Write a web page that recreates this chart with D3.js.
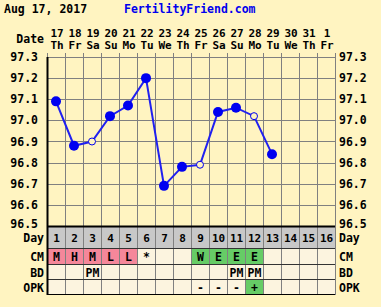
<!DOCTYPE html>
<html><head><meta charset="utf-8">
<script src="https://cdn.jsdelivr.net/npm/d3@7"></script>
<style>html,body{margin:0;padding:0;background:#FFF4C1;}svg{display:block;}text{font-family:"DejaVu Sans Mono",monospace;font-weight:bold;font-size:11.5px;}</style>
</head><body>
<script>
const days = d3.range(1, 17);
const dates = ["17","18","19","20","21","22","23","24","25","26","27","28","29","30","31","1"];
const weekdays = ["Th","Fr","Sa","Su","Mo","Tu","We","Th","Fr","Sa","Su","Mo","Tu","We","Th","Fr"];
const temps = [97.09, 96.88, 96.90, 97.02, 97.07, 97.20, 96.69, 96.78, 96.79, 97.04, 97.06, 97.02, 96.84, null, null, null];
const openDays = [3, 9, 12];
const yTicks = [96.5, 96.6, 96.7, 96.8, 96.9, 97.0, 97.1, 97.2, 97.3];
const cm = ["M","H","M","L","L","*","","","W","E","E","E","","","",""];
const bd = ["","","PM","","","","","","","","PM","PM","","","",""];
const opk = ["","","","","","","","","-","-","-","+","","","",""];
const rowLabels = ["Day","CM","BD","OPK"];

const W = 381, H = 307;
const BG = "#FFF4C1";
const svg = d3.select("body").append("svg").attr("width", W).attr("height", H);
const x = d3.scaleBand().domain(days).range([47, 335]);
const y = d3.scaleLinear().domain([96.5, 97.3]).range([226, 57]);
const cx = d => x(d) + x.bandwidth() / 2;
const px = v => Math.round(v) + 0.5;

// title
svg.append("text").attr("x", 4).attr("y", 13).attr("fill", "#000").text("Aug 17, 2017");
svg.append("text").attr("x", 124).attr("y", 13).attr("fill", "#0000EE").text("FertilityFriend.com");

// date header
svg.append("text").attr("x", 44).attr("y", 43).attr("text-anchor", "end").text("Date");
svg.selectAll(".dt").data(days).enter().append("text")
  .attr("x", d => cx(d) + 1).attr("y", 37).attr("text-anchor", "middle").style("font-size", "11px").text(d => dates[d - 1]);
svg.selectAll(".wd").data(days).enter().append("text")
  .attr("x", d => cx(d) + 1).attr("y", 49).attr("text-anchor", "middle").style("font-size", "11px").text(d => weekdays[d - 1]);

// table rows geometry
const rowTops = [226, 248, 264, 279];
const rowBottoms = [248, 264, 279, 294];

// plot background
svg.append("rect").attr("x", 47).attr("y", 57).attr("width", 288).attr("height", 169).attr("fill", BG);
// table cells
const cellFill = (r, d) => {
  if (r === 0) return "#C8C8C8";
  if (r === 1) { const v = cm[d - 1]; if (v && "MHL".includes(v)) return "#F5879A"; if (v && "WE".includes(v)) return "#66CC66"; }
  if (r === 3 && opk[d - 1] === "+") return "#66CC66";
  return "#FCF4DF";
};
[0, 1, 2, 3].forEach(r => {
  svg.selectAll(".c" + r).data(days).enter().append("rect")
    .attr("x", d => x(d)).attr("y", rowTops[r]).attr("width", x.bandwidth()).attr("height", rowBottoms[r] - rowTops[r])
    .attr("fill", d => cellFill(r, d));
});

// grid lines
svg.selectAll(".hg").data(yTicks).enter().append("line")
  .attr("x1", 47).attr("x2", 335).attr("y1", d => px(y(d))).attr("y2", d => px(y(d)))
  .attr("stroke", "#808080").attr("stroke-width", 1);
svg.selectAll(".vg").data(days.slice(1)).enter().append("line")
  .attr("x1", d => px(x(d))).attr("x2", d => px(x(d))).attr("y1", 53).attr("y2", 294)
  .attr("stroke", "#808080").attr("stroke-width", 1);
// table horizontal lines
rowTops.concat([294]).forEach(t => {
  svg.append("line").attr("x1", 47).attr("x2", 335).attr("y1", px(t)).attr("y2", px(t)).attr("stroke", t === 226 || t === 294 ? "#000" : "#333").attr("stroke-width", 1);
});
svg.append("line").attr("x1", 47).attr("x2", 335).attr("y1", px(226)).attr("y2", px(226)).attr("stroke", "#000").attr("stroke-width", 2);
// borders
svg.append("line").attr("x1", px(47)).attr("x2", px(47)).attr("y1", 57).attr("y2", 295).attr("stroke", "#000").attr("stroke-width", 2);
svg.append("line").attr("x1", px(335)).attr("x2", px(335)).attr("y1", 53).attr("y2", 295).attr("stroke", "#808080").attr("stroke-width", 1);
svg.append("line").attr("x1", px(47)).attr("x2", px(47)).attr("y1", 53).attr("y2", 57).attr("stroke", "#808080");

// y labels (bottom one nudged up, as in the reference)
const yLabY = d => y(d) + (d === 96.5 ? 2 : 4);
svg.selectAll(".yl").data(yTicks).enter().append("text")
  .attr("x", 38).attr("y", yLabY).attr("text-anchor", "end").text(d => d.toFixed(1));
svg.selectAll(".yr").data(yTicks).enter().append("text")
  .attr("x", 339).attr("y", yLabY).text(d => d.toFixed(1));

// row labels
rowLabels.forEach((lab, r) => {
  const my = (rowTops[r] + rowBottoms[r]) / 2 + 5;
  svg.append("text").attr("x", 44).attr("y", my).attr("text-anchor", "end").text(lab);
  svg.append("text").attr("x", 339).attr("y", my).text(lab);
});

// cell texts
const rowsData = [days.map(String), cm, bd, opk];
rowsData.forEach((arr, r) => {
  const my = (rowTops[r] + rowBottoms[r]) / 2 + 5;
  svg.selectAll(".t" + r).data(days).enter().append("text")
    .attr("x", d => cx(d) + 0.5).attr("y", my).attr("text-anchor", "middle")
    .style("font-size", r === 0 ? "11px" : null).text(d => arr[d - 1]);
});

// temperature line
const pts = days.filter(d => temps[d - 1] !== null).map(d => ({ d, v: temps[d - 1] }));
svg.append("path").datum(pts)
  .attr("d", d3.line().x(p => cx(p.d)).y(p => y(p.v)))
  .attr("fill", "none").attr("stroke", "#2020F0").attr("stroke-width", 2);
svg.selectAll(".pt").data(pts).enter().append("circle")
  .attr("cx", p => cx(p.d)).attr("cy", p => y(p.v))
  .attr("r", p => openDays.includes(p.d) ? 3.5 : 5)
  .attr("fill", p => openDays.includes(p.d) ? BG : "#0000F0")
  .attr("stroke", "#0000F0").attr("stroke-width", p => openDays.includes(p.d) ? 1 : 0);
</script>
</body></html>
